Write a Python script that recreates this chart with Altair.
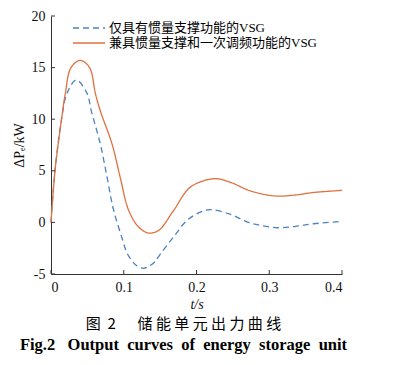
import altair as alt
import pandas as pd

# ---- data ----
series_names = ["仅具有惯量支撑功能的VSG", "兼具惯量支撑和一次调频功能的VSG"]

blue_t = [0, 0.0055, 0.0145, 0.022, 0.0348, 0.0495, 0.0554, 0.0678, 0.077, 0.086,
          0.0985, 0.104, 0.111, 0.118, 0.127, 0.136, 0.143, 0.150, 0.1686, 0.187,
          0.2054, 0.219, 0.246, 0.27, 0.288, 0.311, 0.335, 0.361, 0.4]
blue_v = [0, 5.0, 10.0, 12.5, 13.8, 12.5, 10.8, 7.6, 4.4, 1.2,
          -1.7, -2.9, -3.7, -4.2, -4.45, -4.2, -3.8, -3.1, -1.4, 0.2,
          1.0, 1.23, 0.8, 0.03, -0.29, -0.52, -0.4, -0.13, 0.1]

orange_t = [0, 0.0055, 0.0145, 0.0197, 0.0275, 0.0403, 0.053, 0.061, 0.0678, 0.0839,
            0.095, 0.1068, 0.1205, 0.134, 0.148, 0.1686, 0.1916, 0.2237, 0.246, 0.27,
            0.288, 0.311, 0.335, 0.361, 0.4]
orange_v = [0, 5.0, 10.0, 12.5, 15.0, 15.7, 15.0, 12.5, 10.8, 7.6,
            4.4, 1.16, -0.45, -1.03, -0.77, 1.16, 3.42, 4.23, 3.9, 3.16,
            2.78, 2.55, 2.65, 2.9, 3.1]

x_ticks = [0, 0.1, 0.2, 0.3, 0.4]
y_ticks = [-5, 0, 5, 10, 15, 20]

colors = ["#4A82C3", "#E0703D"]
dashes = [[6, 4], [1, 0]]

df = pd.concat([
    pd.DataFrame({"t": blue_t, "v": blue_v, "s": series_names[0]}),
    pd.DataFrame({"t": orange_t, "v": orange_v, "s": series_names[1]}),
])
xt = pd.DataFrame({"t": x_ticks})
yt = pd.DataFrame({"v": y_ticks})

W, H = 291, 258
SERIF = "Liberation Serif, Noto Sans CJK SC"
NB = "\u00a0"
xs = alt.Scale(domain=[0, 0.4], nice=False, zero=False)
ys = alt.Scale(domain=[-5, 20], nice=False, zero=False)

lines = alt.Chart(df).mark_line(strokeWidth=1.3, interpolate="catmull-rom").encode(
    x=alt.X("t:Q", scale=xs, axis=alt.Axis(
        values=x_ticks, title="t/s", titleFontStyle="italic",
        labelExpr="datum.value == 0 ? '0' : format(datum.value, '.1f')",
        tickSize=0, labelPadding=6, titlePadding=3, grid=False)),
    y=alt.Y("v:Q", scale=ys, axis=alt.Axis(
        values=y_ticks, title="ΔPₑ/kW",
        labelExpr="datum.value + ''",
        titleX=-32, titleY=H / 2, titleBaseline="middle", titleAlign="center",
        tickSize=0, labelPadding=6, grid=False)),
    color=alt.Color("s:N", scale=alt.Scale(domain=series_names, range=colors),
                    legend=alt.Legend(title=None, orient="none", legendX=30, legendY=4,
                                      symbolType="M-2.286,0H2.286", symbolSize=196,
                                      symbolStrokeWidth=1.3, labelFontSize=13,
                                      labelFont=SERIF, labelOffset=12, rowPadding=0,
                                      labelLimit=0, padding=0)),
    strokeDash=alt.StrokeDash("s:N", scale=alt.Scale(domain=series_names, range=dashes),
                              legend=None),
)

xtick_marks = alt.Chart(xt).mark_rule(color="#333", strokeWidth=1).encode(
    x=alt.X("t:Q", scale=xs), y=alt.value(H), y2=alt.value(H - 4))
ytick_marks = alt.Chart(yt).mark_rule(color="#333", strokeWidth=1).encode(
    y=alt.Y("v:Q", scale=ys), x=alt.value(0), x2=alt.value(4))

caption_cn = "图" + NB * 2 + "2\u3000" + NB * 2 + NB.join("储能单元出力曲线")
caption_en = ("Fig.2" + NB * 3 + (NB * 2).join(["Output", "curves", "of", "energy", "storage", "unit"])
              + NB * 8)

chart = alt.layer(lines, xtick_marks, ytick_marks).properties(
    width=W, height=H,
    autosize="none",
    padding={"left": 43, "top": 8, "right": 45, "bottom": 83},
    title=alt.TitleParams(
        text=caption_cn,
        subtitle=caption_en,
        orient="bottom", anchor="middle", offset=6, dx=-13,
        font="Noto Sans CJK SC", fontSize=15, fontWeight="normal", color="#000",
        subtitleFont="Liberation Serif", subtitleFontSize=16.5,
        subtitleFontWeight="bold", subtitleColor="#000", subtitlePadding=5),
).configure_view(stroke=None).configure_axis(
    domainColor="#333", domainWidth=1, labelFont=SERIF, labelFontSize=14,
    labelColor="#111", titleFont=SERIF, titleFontSize=14, titleColor="#111",
    titleFontWeight="normal")

chart.save("out.html", embed_options={"renderer": "svg", "actions": False})
